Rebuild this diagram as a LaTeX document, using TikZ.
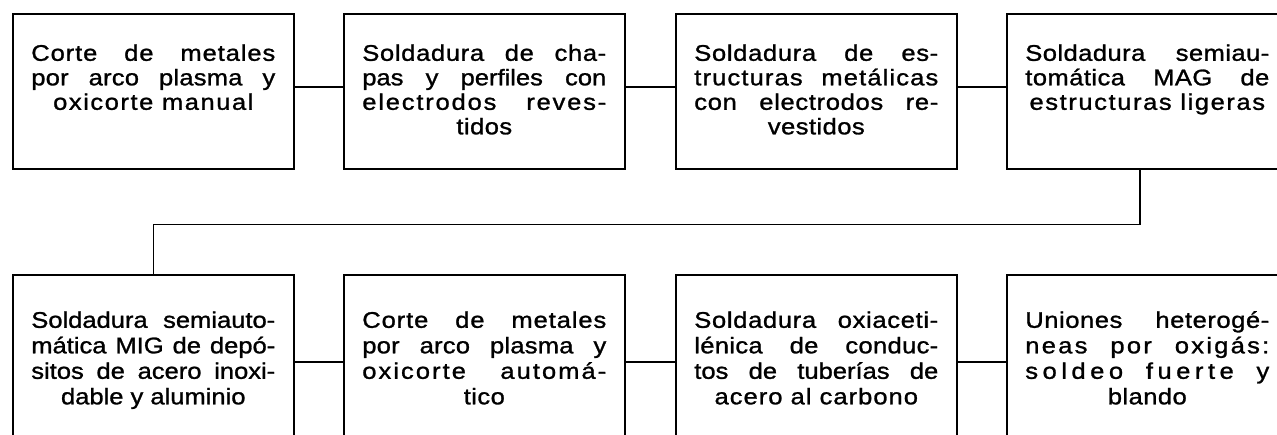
\documentclass[tikz,border=0pt]{standalone}
\usepackage{fontspec}
\setmainfont{Liberation Sans}[FakeStretch=1.13,RawFeature={embolden=1.2}]
% justified line / centred line, optional letter spacing
\newcommand\JL[2][0]{\hbox to\hsize{\addfontfeature{LetterSpace=#1}#2}}
\newcommand\CL[2][0]{\hbox to\hsize{\hfil\addfontfeature{LetterSpace=#1}#2\hfil}}
\newcommand\boxtxt[2][24.5pt]{\parbox[t]{244pt}{\fontsize{22.6pt}{#1}\selectfont #2}}
\begin{document}
\begin{tikzpicture}[x=1pt,y=1pt,
  topbox/.style={draw, line width=1.6pt, inner xsep=18.5pt, inner ysep=0pt,
    anchor=north west, text height=47pt, text depth=108pt},
  botbox/.style={draw, line width=1.6pt, inner xsep=18.5pt, inner ysep=0pt,
    anchor=north west, text height=53pt, text depth=147pt},
  conn/.style={line width=1.4pt}]
\useasboundingbox (0,0) rectangle (1277,-434);
\fill[white] (0,0) rectangle (1277,-434);
\clip (0,0) rectangle (1277,-434);

% top row
\node[topbox] (b1) at (12,-13) {\boxtxt{%
  \JL[4]{Corte de metales}\JL[1]{por arco plasma y}\CL[6.8]{oxicorte manual}}};
\node[topbox] (b2) at (343,-13) {\boxtxt{%
  \JL[3]{Soldadura de cha-}\JL{pas y perfiles con}\JL[8]{electrodos reves-}\CL[2]{tidos}}};
\node[topbox] (b3) at (675,-13) {\boxtxt{%
  \JL[3]{Soldadura de es-}\JL[5]{tructuras metálicas}\JL[3]{con electrodos re-}\CL[2]{vestidos}}};
\node[topbox] (b4) at (1006,-13) {\boxtxt{%
  \JL[2]{Soldadura semiau-}\JL[2]{tomática MAG de}\CL[7]{estructuras ligeras}}};

% bottom row
\node[botbox] (b5) at (12,-274) {\boxtxt[25.5pt]{%
  \JL{Soldadura semiauto-}\JL{mática MIG de depó-}\JL{sitos de acero inoxi-}\CL{dable y aluminio}}};
\node[botbox] (b6) at (343,-274) {\boxtxt[25.5pt]{%
  \JL[4]{Corte de metales}\JL[1]{por arco plasma y}\JL[9]{oxicorte automá-}\CL[2]{tico}}};
\node[botbox] (b7) at (675,-274) {\boxtxt[25.5pt]{%
  \JL[3]{Soldadura oxiaceti-}\JL[1.5]{lénica de conduc-}\JL{tos de tuberías de}\CL[4.5]{acero al carbono}}};
\node[botbox] (b8) at (1006,-274) {\boxtxt[25.5pt]{%
  \JL[2.5]{Uniones heterogé-}\JL[10]{neas por oxigás:}\JL[20]{soldeo fuerte y}\CL[2]{blando}}};

% connectors
\draw[conn] ([yshift=-74pt]b1.north east) -- ([yshift=-74pt]b2.north west);
\draw[conn] ([yshift=-74pt]b2.north east) -- ([yshift=-74pt]b3.north west);
\draw[conn] ([yshift=-74pt]b3.north east) -- ([yshift=-74pt]b4.north west);
\coordinate (turn) at ([xshift=134pt,yshift=-55pt]b4.south west);
\draw[conn] ([xshift=134pt]b4.south west) -- (turn) -| (b5.north);
\draw[conn] ([yshift=-88pt]b5.north east) -- ([yshift=-88pt]b6.north west);
\draw[conn] ([yshift=-88pt]b6.north east) -- ([yshift=-88pt]b7.north west);
\draw[conn] ([yshift=-88pt]b7.north east) -- ([yshift=-88pt]b8.north west);
\end{tikzpicture}
\end{document}
